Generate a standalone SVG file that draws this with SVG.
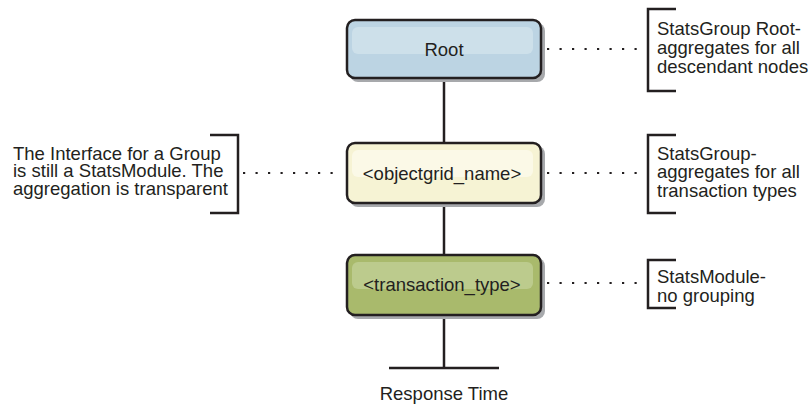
<svg xmlns="http://www.w3.org/2000/svg" width="811" height="406" viewBox="0 0 811 406">
<style>
text{font-family:"Liberation Sans",Arial,sans-serif;font-size:18.5px;fill:#231f20}
.c{text-anchor:middle}
.box{stroke:#231f20;stroke-width:2.5}
.sh{fill:#a7a9ac}
.ln{stroke:#231f20;stroke-width:2.5;fill:none}
.dot{stroke:#231f20;stroke-width:2.2;fill:none;stroke-dasharray:2.2 10.3}
</style>
<rect width="811" height="406" fill="#fff"/>
<g id="connectors">
<line class="ln" x1="444" y1="78" x2="444" y2="143"/>
<line class="ln" x1="444" y1="203" x2="444" y2="255"/>
<line class="ln" x1="444" y1="315" x2="444" y2="368"/>
<line class="ln" x1="389" y1="368" x2="499" y2="368"/>
<line class="dot" x1="547" y1="49" x2="646" y2="49"/>
<line class="dot" x1="547" y1="173" x2="646" y2="173"/>
<line class="dot" x1="547" y1="283" x2="646" y2="283"/>
<line class="dot" x1="243" y1="173" x2="342" y2="173"/>
</g>
<g id="root">
<rect class="sh" x="350" y="23" width="195" height="59" rx="8"/>
<rect class="box" x="347" y="20" width="194" height="58" rx="8" fill="#bcd4e3"/>
<rect x="352" y="27" width="181" height="27" rx="6" fill="#cde0ea"/>
<text class="c" x="444" y="56">Root</text>
</g>
<g id="objectgrid">
<rect class="sh" x="350" y="146" width="195" height="61" rx="8"/>
<rect class="box" x="347" y="143" width="194" height="60" rx="8" fill="#f6f3d4"/>
<rect x="352" y="150" width="181" height="27" rx="6" fill="#fbf9e7"/>
<text class="c" x="442" y="179.5">&lt;objectgrid_name&gt;</text>
</g>
<g id="transaction">
<rect class="sh" x="350" y="258" width="195" height="61" rx="8"/>
<rect class="box" x="347" y="255" width="194" height="60" rx="8" fill="#a9ba6c"/>
<rect x="352" y="262" width="181" height="27" rx="6" fill="#bccb8d"/>
<text class="c" x="442" y="291">&lt;transaction_type&gt;</text>
</g>
<g id="note-root">
<polyline class="ln" points="676,9 648,9 648,91 676,91"/>
<text x="657" y="35">StatsGroup Root-</text>
<text x="657" y="53.5">aggregates for all</text>
<text x="657" y="72.5">descendant nodes</text>
</g>
<g id="note-group">
<polyline class="ln" points="676,135 648,135 648,213 676,213"/>
<text x="657" y="159.5">StatsGroup-</text>
<text x="657" y="178">aggregates for all</text>
<text x="657" y="196.5">transaction types</text>
</g>
<g id="note-module">
<polyline class="ln" points="676,260 648,260 648,308 676,308"/>
<text x="657" y="283">StatsModule-</text>
<text x="657" y="301.5">no grouping</text>
</g>
<g id="note-interface">
<polyline class="ln" points="210,135 238,135 238,213 210,213"/>
<text x="13" y="159.5">The Interface for a Group</text>
<text x="13" y="177">is still a StatsModule. The</text>
<text x="13" y="195">aggregation is transparent</text>
</g>
<g id="response">
<text class="c" x="444" y="400">Response Time</text>
</g>
</svg>
